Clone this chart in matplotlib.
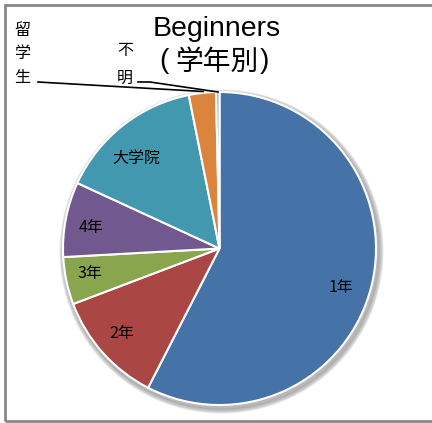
import matplotlib.pyplot as plt
import matplotlib.patches as patches

plt.rcParams['font.family'] = ['Noto Sans CJK JP', 'DejaVu Sans']

# data (percent), clockwise from 12 o'clock
labels = ['1年', '2年', '3年', '4年', '大学院', '不明', '留学生']
values = [57.6, 11.7, 4.9, 7.75, 15.0, 2.8, 0.35]
colors = ['#4572A7', '#AA4643', '#89A54E', '#71588F', '#4198AF', '#DB843D', '#93A9CF']

W, H = 432, 423
cx, cy, r = 219.5, H - 248.5, 156.5

# label positions in pixels (x, y from top)
inner_pos = [(341, 287), (122, 333), (90, 273), (91, 227), (136, 158)]

fig = plt.figure(figsize=(W / 100, H / 100), dpi=100)
ax = fig.add_axes([0, 0, 1, 1])

# frame
ax.add_patch(patches.Rectangle((5, H - 421), 440, 416, fill=False,
                               edgecolor='#888888', linewidth=2))

# soft shadow
for i in range(6):
    ax.add_patch(patches.Circle((cx + 2, cy - 3), r + 1 + i * 0.8,
                                color='#000000', alpha=0.05, zorder=1))

ax.pie(values, colors=colors, startangle=90, counterclock=False,
       center=(cx, cy), radius=r, frame=True,
       wedgeprops=dict(edgecolor='white', linewidth=1.5, zorder=2))
ax.set_xlim(0, W)
ax.set_ylim(0, H)
ax.set_aspect('auto')
ax.axis('off')

for lab, (x, y) in zip(labels[:5], inner_pos):
    ax.text(x, H - y, lab, fontsize=11.5, ha='center', va='center', zorder=5)

# outside labels, vertical
for ch, y in zip('不明', [50, 78]):
    ax.text(125, H - y, ch, fontsize=11.5, ha='center', va='center')
for ch, y in zip('留学生', [30, 53, 77]):
    ax.text(22, H - y, ch, fontsize=11.5, ha='center', va='center')

# leader lines
ax.plot([138, 150, 218], [H - 82, H - 82, H - 92], color='black', lw=1.2, zorder=6)
ax.plot([38, 203], [H - 82, H - 91.5], color='black', lw=1.2, zorder=6)

# title
ax.text(217, H - 29, 'Beginners', fontsize=20.5, ha='center', va='center',
        family=['Liberation Sans', 'DejaVu Sans'])
ax.text(164, H - 61, '(', fontsize=20, ha='center', va='center',
        family=['Liberation Sans'])
ax.text(217, H - 62, '学年別', fontsize=20, ha='center', va='center')
ax.text(264, H - 61, ')', fontsize=20, ha='center', va='center',
        family=['Liberation Sans'])

fig.savefig('out.png', dpi=100)
